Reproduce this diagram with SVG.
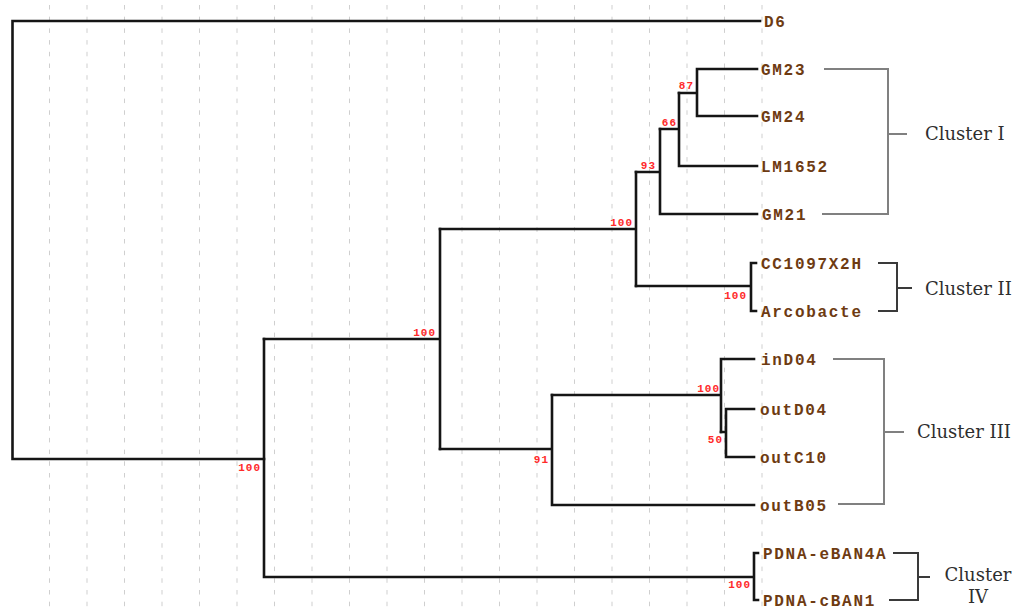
<svg xmlns="http://www.w3.org/2000/svg" width="1017" height="609" viewBox="0 0 1017 609">
  <style>
    .grid line { stroke: #cfcfcf; stroke-width: 1; stroke-dasharray: 4.5 7.2; }
    .branch { fill: none; stroke: #151515; stroke-width: 2.6; stroke-linecap: square; }
    .leaf { font-family: "Liberation Mono", "DejaVu Sans Mono", monospace; font-weight: bold; font-size: 16px; letter-spacing: 1.7px; fill: #6e3b12; }
    .boot { font-family: "Liberation Mono", "DejaVu Sans Mono", monospace; font-weight: bold; font-size: 11px; letter-spacing: 1px; fill: #ff2a2a; text-anchor: end; }
    .brk { fill: none; stroke-width: 2; }
    .brk.light { stroke: #808080; }
    .brk.dark { stroke: #3a3a3a; }
    .clabel { font-family: "DejaVu Serif", "Liberation Serif", serif; font-size: 18px; fill: #2e2e2e; }
  </style>

  <rect width="1017" height="609" fill="#ffffff"/>

  <!-- distance scale grid -->
  <g class="grid" id="grid">
    <line x1="49.5" y1="5" x2="49.5" y2="609"/>
    <line x1="87" y1="5" x2="87" y2="609"/>
    <line x1="124.5" y1="5" x2="124.5" y2="609"/>
    <line x1="162" y1="5" x2="162" y2="609"/>
    <line x1="199.5" y1="5" x2="199.5" y2="609"/>
    <line x1="237" y1="5" x2="237" y2="609"/>
    <line x1="274.5" y1="5" x2="274.5" y2="609"/>
    <line x1="312" y1="5" x2="312" y2="609"/>
    <line x1="349.5" y1="5" x2="349.5" y2="609"/>
    <line x1="387" y1="5" x2="387" y2="609"/>
    <line x1="424.5" y1="5" x2="424.5" y2="609"/>
    <line x1="462" y1="5" x2="462" y2="609"/>
    <line x1="499.5" y1="5" x2="499.5" y2="609"/>
    <line x1="537" y1="5" x2="537" y2="609"/>
    <line x1="574.5" y1="5" x2="574.5" y2="609"/>
    <line x1="612" y1="5" x2="612" y2="609"/>
    <line x1="649.5" y1="5" x2="649.5" y2="609"/>
    <line x1="687" y1="5" x2="687" y2="609"/>
    <line x1="724.5" y1="5" x2="724.5" y2="609"/>
    <line x1="762" y1="5" x2="762" y2="609"/>
  </g>

  <!-- tree branches -->
  <g id="connectors">
    <path class="branch" d="M12.5,21 V459 M12.5,21 H760 M12.5,459 H264"/>
    <path class="branch" d="M264,339 V577 M264,577 H754 M754,553 V600 M754,553 H758 M754,600 H758"/>
    <path class="branch" d="M264,339 H440 M440,229 V449"/>
    <path class="branch" d="M440,229 H636 M636,172 V286"/>
    <path class="branch" d="M636,172 H660 M660,129 V214 M660,214 H757"/>
    <path class="branch" d="M660,129 H679 M679,93 V166 M679,166 H757"/>
    <path class="branch" d="M679,93 H697 M697,69 V116 M697,69 H757 M697,116 H757"/>
    <path class="branch" d="M636,286 H751 M751,263 V311 M751,263 H756 M751,311 H756"/>
    <path class="branch" d="M440,449 H552 M552,395 V505 M552,505 H754"/>
    <path class="branch" d="M552,395 H721 M721,359 V432 M721,359 H754"/>
    <path class="branch" d="M721,432 H726 M726,409 V457 M726,409 H754 M726,457 H754"/>
  </g>

  <!-- bootstrap values -->
  <g id="bootstrap">
    <text class="boot" x="694" y="89">87</text>
    <text class="boot" x="677" y="126">66</text>
    <text class="boot" x="656" y="169">93</text>
    <text class="boot" x="633" y="226">100</text>
    <text class="boot" x="747" y="299">100</text>
    <text class="boot" x="436" y="336">100</text>
    <text class="boot" x="720" y="392">100</text>
    <text class="boot" x="723" y="443">50</text>
    <text class="boot" x="549" y="463">91</text>
    <text class="boot" x="261" y="471">100</text>
    <text class="boot" x="751" y="588">100</text>
  </g>

  <!-- taxa -->
  <g id="leaf-D6"><text class="leaf" x="764" y="26.5">D6</text></g>
  <g id="leaf-GM23"><text class="leaf" x="761" y="74.5">GM23</text></g>
  <g id="leaf-GM24"><text class="leaf" x="761" y="121.5">GM24</text></g>
  <g id="leaf-LM1652"><text class="leaf" x="761" y="171.5">LM1652</text></g>
  <g id="leaf-GM21"><text class="leaf" x="762" y="219.5">GM21</text></g>
  <g id="leaf-CC1097X2H"><text class="leaf" x="761" y="268.5">CC1097X2H</text></g>
  <g id="leaf-Arcobacte"><text class="leaf" x="761" y="316.5">Arcobacte</text></g>
  <g id="leaf-inD04"><text class="leaf" x="761" y="364.5">inD04</text></g>
  <g id="leaf-outD04"><text class="leaf" x="760" y="414.5">outD04</text></g>
  <g id="leaf-outC10"><text class="leaf" x="760" y="462.5">outC10</text></g>
  <g id="leaf-outB05"><text class="leaf" x="760" y="510.5">outB05</text></g>
  <g id="leaf-PDNA-eBAN4A"><text class="leaf" x="763" y="558.5">PDNA-eBAN4A</text></g>
  <g id="leaf-PDNA-cBAN1"><text class="leaf" x="763" y="605.5">PDNA-cBAN1</text></g>

  <!-- cluster brackets -->
  <g id="cluster-1">
    <path class="brk light" d="M824,69 H888 V214 H822 M888,134 H907"/>
    <text class="clabel" x="925" y="140">Cluster I</text>
  </g>
  <g id="cluster-2">
    <path class="brk dark" d="M878,263 H897 V311 H878 M897,288 H912"/>
    <text class="clabel" x="925" y="295">Cluster II</text>
  </g>
  <g id="cluster-3">
    <path class="brk light" d="M833,359 H884 V504 H838 M884,432 H904"/>
    <text class="clabel" x="917" y="438">Cluster III</text>
  </g>
  <g id="cluster-4">
    <path class="brk dark" d="M893,553 H918 V600 H889 M918,577 H930"/>
    <text class="clabel" x="978" y="581" text-anchor="middle">Cluster</text>
    <text class="clabel" x="978" y="603" text-anchor="middle">IV</text>
  </g>
</svg>
